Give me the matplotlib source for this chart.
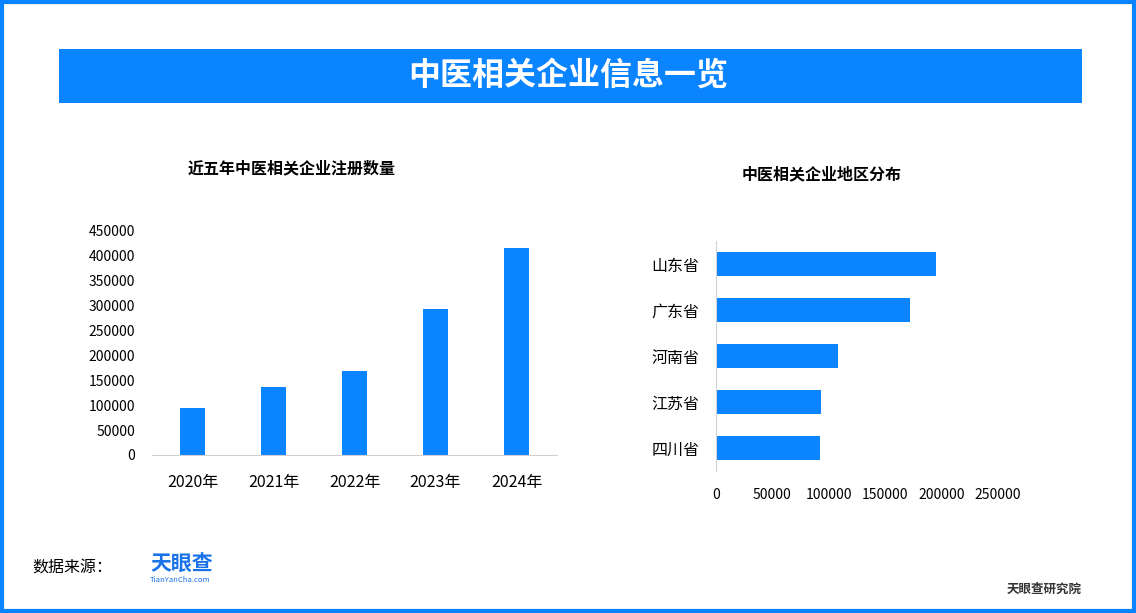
import matplotlib.pyplot as plt
from matplotlib.patches import Rectangle

plt.rcParams['font.family'] = ['Noto Sans CJK SC', 'DejaVu Sans']

years = ['2020年', '2021年', '2022年', '2023年', '2024年']
counts = [95000, 137000, 169000, 293000, 416000]

provinces = ['山东省', '广东省', '河南省', '江苏省', '四川省']
prov_counts = [195000, 172000, 108000, 93000, 92000]

blue = '#0A84FF'
fig = plt.figure(figsize=(11.36, 6.13), dpi=100)

# border and banner
fig.patches.append(Rectangle((0.002, 0.004), 0.996, 0.992, transform=fig.transFigure,
                             fill=False, edgecolor=blue, lw=3))
fig.patches.append(Rectangle((59/1136, 1-103/613), 1023/1136, 54/613, transform=fig.transFigure,
                             facecolor=blue, edgecolor='none'))
fig.text(0.5, 1-76/613, '中医相关企业信息一览', color='white', fontsize=23,
         fontweight='bold', ha='center', va='center')

# left chart
ax1 = fig.add_axes([152/1136, 1-455/613, 405/1136, 224/613])
ax1.bar(range(len(years)), counts, width=0.31, color=blue)
ax1.set_xlim(-0.5, 4.5)
ax1.set_ylim(0, 450000)
ax1.set_yticks(range(0, 450001, 50000))
ax1.set_xticks(range(len(years)))
ax1.set_xticklabels(years, fontsize=11.5)
ax1.tick_params(axis='y', labelsize=10, length=0, pad=12)
ax1.tick_params(axis='x', length=0, pad=14)
for s in ['top', 'right', 'left']:
    ax1.spines[s].set_visible(False)
ax1.spines['bottom'].set_color('#d0d0d0')
fig.text(292/1136, 1-168/613, '近五年中医相关企业注册数量', fontsize=11.5,
         fontweight='bold', ha='center', va='center')

# right chart
ax2 = fig.add_axes([716/1136, 1-471/613, 282/1136, 230/613])
ax2.barh(range(len(provinces)), prov_counts, height=0.52, color=blue)
ax2.set_ylim(4.5, -0.5)
ax2.set_xlim(0, 250000)
ax2.set_xticks(range(0, 250001, 50000))
ax2.set_yticks(range(len(provinces)))
ax2.set_yticklabels(provinces, fontsize=11.5)
ax2.tick_params(axis='x', labelsize=10, length=0, pad=12)
ax2.tick_params(axis='y', length=0, pad=12)
for s in ['top', 'right', 'bottom']:
    ax2.spines[s].set_visible(False)
ax2.spines['left'].set_color('#d0d0d0')
fig.text(822/1136, 1-174/613, '中医相关企业地区分布', fontsize=11.5,
         fontweight='bold', ha='center', va='center')

# footer
fig.text(32/1136, 1-568/613, '数据来源：', fontsize=11.5, va='center')
fig.text(150/1136, 1-564/613, '天眼查', fontsize=15, fontweight='bold', color='#1a73e8', va='center')
fig.text(150/1136, 1-580/613, 'TianYanCha.com', fontsize=5.5, color='#1a73e8', va='center')
fig.text(1044/1136, 1-589/613, '天眼查研究院', fontsize=9, fontweight='bold', color='#333333',
         ha='center', va='center')

fig.savefig('out.png', dpi=100)
